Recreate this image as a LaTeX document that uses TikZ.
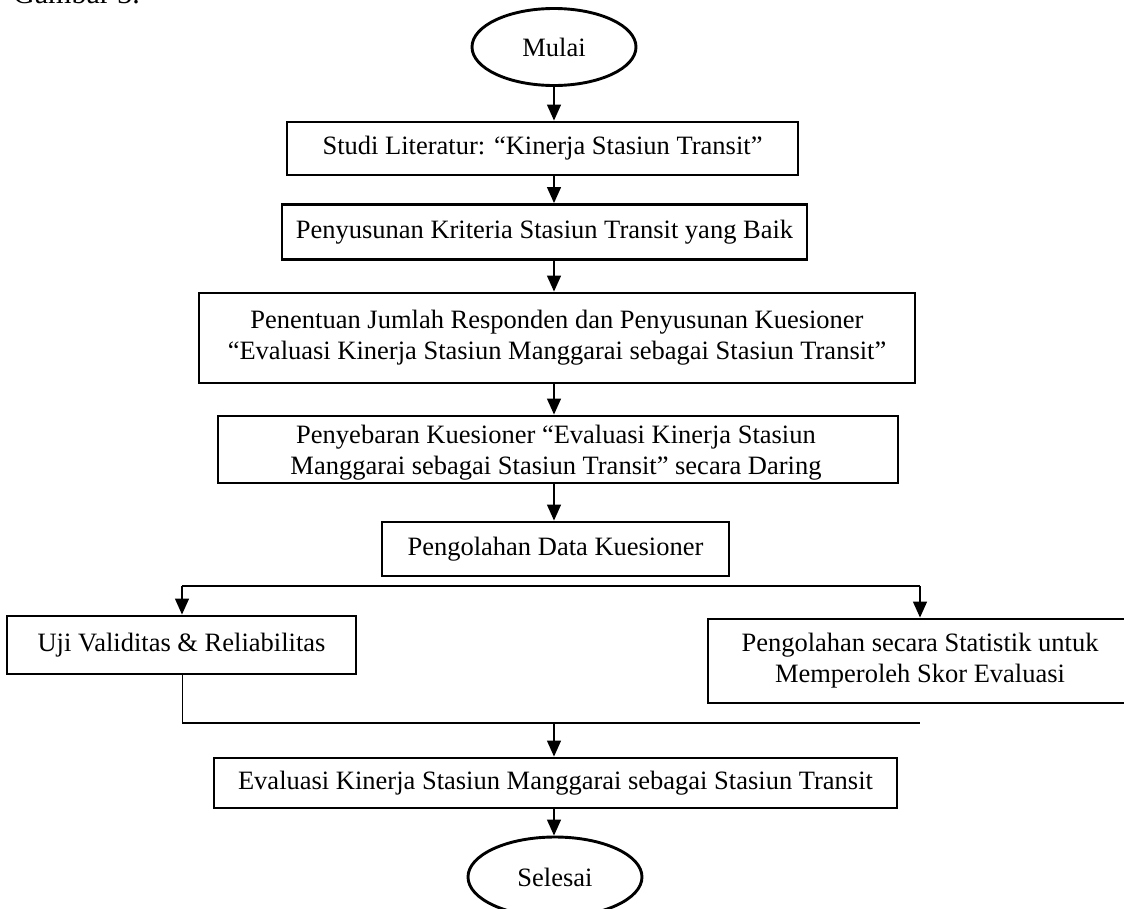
\documentclass[tikz,border=0pt]{standalone}
\usepackage{fontspec}
\setmainfont{Liberation Serif}
\usetikzlibrary{arrows.meta,shapes.geometric}
\begin{document}
\begin{tikzpicture}[x=1pt,y=1pt,
  box/.style={draw,line width=2.9pt,rectangle,inner sep=0pt,align=center,font=\fontsize{26.5}{31}\selectfont},
  boxtext/.style={align=center,inner sep=0pt,font=\fontsize{26.5}{31}\selectfont},
  term/.style={draw,line width=2.9pt,ellipse,inner sep=0pt,font=\fontsize{26.5}{31}\selectfont},
  flow/.style={line width=1.3pt,-{Triangle[width=14pt,length=16pt]}},
  link/.style={line width=1.3pt},
  thinlink/.style={line width=0.9pt}]
\useasboundingbox (0,0) rectangle (1124,-908);
\node[anchor=base west,inner sep=0pt,font=\fontsize{30}{36}\selectfont] (cap) at (13,-3) {Gambar 3.};
\coordinate (ax) at (554,0);
\node[term,minimum width=164pt,minimum height=77pt] (mulai) at (554,-47) {Mulai};
\node[box,minimum width=511pt,minimum height=53pt] (b1) at (542.5,-148.5) {Studi Literatur: “Kinerja Stasiun Transit”};
\node[box,minimum width=525pt,minimum height=55pt] (b2) at (544.5,-232) {Penyusunan Kriteria Stasiun Transit yang Baik};
\node[box,minimum width=716pt,minimum height=90pt] (b3) at (557,-338) {Penentuan Jumlah Responden dan Penyusunan Kuesioner\\“Evaluasi Kinerja Stasiun Manggarai sebagai Stasiun Transit”};
\node[box,minimum width=680pt,minimum height=67pt] (b4) at (558,-449.5) {};
\node[boxtext] (b4t) at (556,-453) {Penyebaran Kuesioner “Evaluasi Kinerja Stasiun\\Manggarai sebagai Stasiun Transit” secara Daring};
\node[box,minimum width=347pt,minimum height=54pt] (b5) at (555.5,-549) {Pengolahan Data Kuesioner};
\node[box,minimum width=349pt,minimum height=58pt] (b6) at (181.5,-645) {Uji Validitas \& Reliabilitas};
\node[box,minimum width=424pt,minimum height=84pt] (b7) at (920,-661) {Pengolahan secara Statistik untuk\\Memperoleh Skor Evaluasi};
\node[box,minimum width=683pt,minimum height=50pt] (b8) at (555.5,-783) {Evaluasi Kinerja Stasiun Manggarai sebagai Stasiun Transit};
\node[term,minimum width=174pt,minimum height=80pt] (selesai) at (555,-877) {Selesai};
\coordinate (sl) at (182,-586);
\coordinate (sr) at (920,-586);
\coordinate (jl) at (182,-723);
\coordinate (jr) at (920,-723);
\draw[flow] (mulai.south) -- (mulai.south |- b1.north);
\draw[flow] (b1.south -| ax) -- (b2.north -| ax);
\draw[flow] (b2.south -| ax) -- (b3.north -| ax);
\draw[flow] (b3.south -| ax) -- (b4.north -| ax);
\draw[flow] (b4.south -| ax) -- (b5.north -| ax);
\draw[link] (sl) -- (sr);
\draw[flow] (sl) -- (sl |- b6.north);
\draw[flow] (sr) -- (sr |- b7.north);
\draw[thinlink] (b6.south -| sl) -- (jl);
\draw[link] (jl) -- (jr);
\draw[flow] (ax |- jl) -- (b8.north -| ax);
\draw[flow] (b8.south -| ax) -- (selesai.north -| ax);
\end{tikzpicture}
\end{document}
